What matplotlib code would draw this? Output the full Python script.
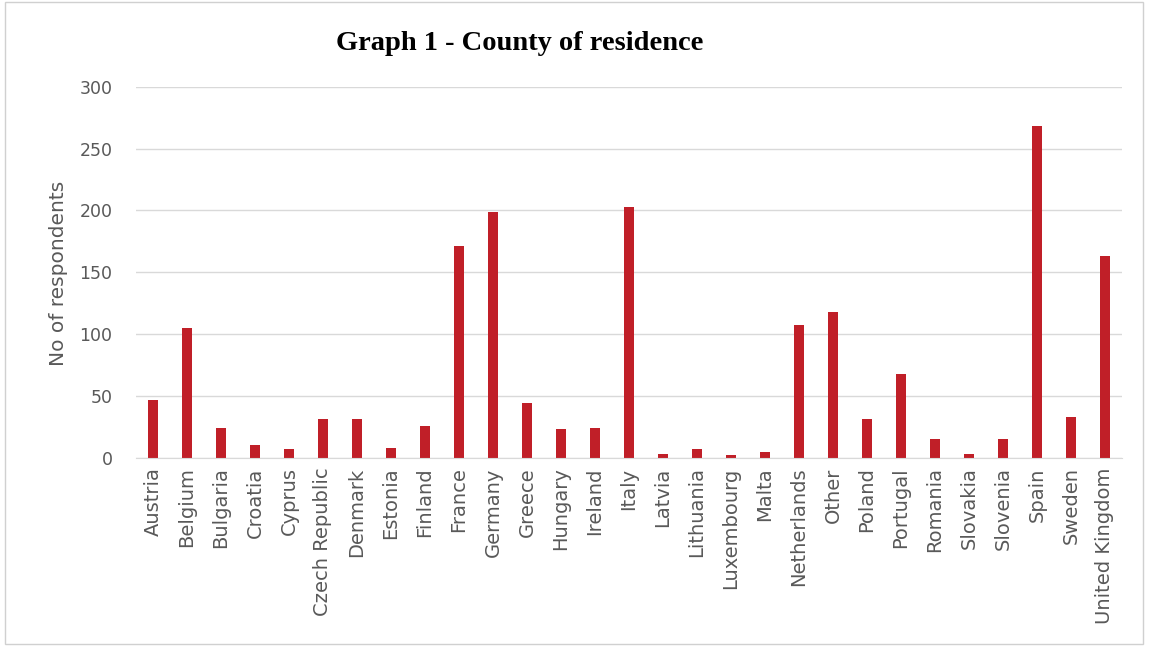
import matplotlib.pyplot as plt
from matplotlib.patches import Rectangle

countries = ['Austria', 'Belgium', 'Bulgaria', 'Croatia', 'Cyprus',
             'Czech Republic', 'Denmark', 'Estonia', 'Finland', 'France',
             'Germany', 'Greece', 'Hungary', 'Ireland', 'Italy', 'Latvia',
             'Lithuania', 'Luxembourg', 'Malta', 'Netherlands', 'Other',
             'Poland', 'Portugal', 'Romania', 'Slovakia', 'Slovenia',
             'Spain', 'Sweden', 'United Kingdom']
respondents = [47, 105, 24, 10, 7, 31, 31, 8, 26, 171,
               199, 44, 23, 24, 203, 3, 7, 2, 5, 107,
               118, 31, 68, 15, 3, 15, 268, 33, 163]
y_ticks = [0, 50, 100, 150, 200, 250, 300]


def main():
    W, H = 1150, 646
    fig = plt.figure(figsize=(W / 100, H / 100), dpi=100)
    ax = fig.add_axes([136 / W, 1 - 457.7 / H, 986 / W, 371 / H])

    x = range(len(countries))
    ax.bar(x, respondents, width=0.3, color='#C01F28', zorder=3)

    ax.set_xlim(-0.5, len(countries) - 0.5)
    ax.set_ylim(0, 300)
    ax.set_yticks(y_ticks)
    ax.set_xticks(list(x))
    ax.set_xticklabels(countries, rotation=90, fontsize=14,
                       color='#595959', family='DejaVu Sans')
    ax.tick_params(axis='x', length=0, pad=7)
    ax.tick_params(axis='y', length=0, pad=17, labelsize=12.5,
                   labelcolor='#595959')
    ax.grid(axis='y', color='#d9d9d9', linewidth=1, zorder=0)
    for side in ['top', 'right', 'left']:
        ax.spines[side].set_visible(False)
    ax.spines['bottom'].set_color('#d9d9d9')
    ax.spines['bottom'].set_zorder(4)

    fig.text(520 / W, 1 - 43 / H, 'Graph 1 - County of residence',
             ha='center', va='center', fontsize=20.5, fontweight='bold',
             family='Liberation Serif')
    fig.text(58 / W, 1 - 273 / H, 'No of respondents', rotation=90,
             ha='center', va='center', fontsize=14.5, color='#595959')

    fig.patches.append(Rectangle((5 / W, 2 / H), 1138 / W, 642 / H,
                                 transform=fig.transFigure, fill=False,
                                 edgecolor='#d0d0d0', linewidth=1))

    fig.savefig('out.png', dpi=100)


if __name__ == '__main__':
    main()
